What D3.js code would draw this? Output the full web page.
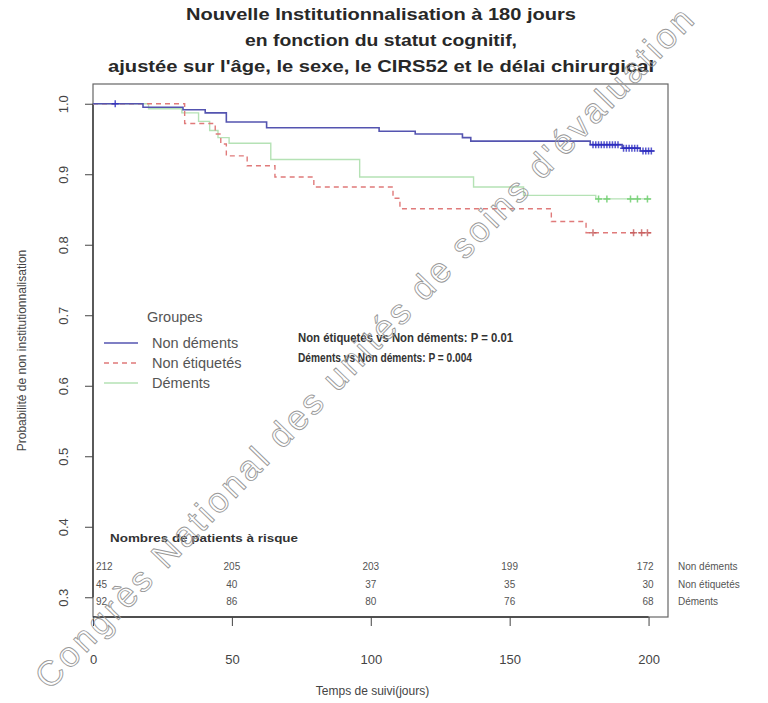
<!DOCTYPE html>
<html lang="fr">
<head>
<meta charset="UTF-8">
<title>Nouvelle Institutionnalisation à 180 jours</title>
<script src="https://cdnjs.cloudflare.com/ajax/libs/d3/7.8.5/d3.min.js"></script>
<style>
  body { margin: 0; background: #fff; }
  svg { display: block; }
  text { font-family: 'Liberation Sans', Arial, sans-serif; }
</style>
</head>
<body>
<script>
  // step curves (time in days, probability)
  const groups = ["Non déments", "Non étiquetés", "Déments"];
  const timesNonDements = [0, 18, 32.4, 40.4, 48, 62.5, 103, 116, 133, 136, 179, 190.5, 197, 202];
  const survNonDements  = [1, 0.995, 0.9915, 0.987, 0.974, 0.966, 0.961, 0.957, 0.952, 0.947, 0.942, 0.937, 0.933, 0.933];
  const timesNonEtiq = [0, 33, 44, 46, 48, 55.5, 65.5, 79.5, 108, 110.5, 165, 177.5, 201];
  const survNonEtiq  = [1, 0.972, 0.957, 0.943, 0.926, 0.912, 0.896, 0.882, 0.866, 0.851, 0.833, 0.817, 0.817];
  const timesDements = [0, 20, 32, 38, 42, 45, 49, 64, 96, 137, 155, 181, 201];
  const survDements  = [1, 0.993, 0.987, 0.975, 0.962, 0.952, 0.944, 0.921, 0.896, 0.882, 0.870, 0.865, 0.865];

  // censoring marks
  const censNonDements = [8, 180, 181, 182, 183, 184, 185, 186, 187, 188, 189, 191, 192, 193, 194, 195, 196, 198, 199, 200, 201];
  const censNonEtiq = [180, 194.6, 197.5, 199.6];
  const censDements = [182, 185, 193.5, 196, 199.6];

  // numbers at risk
  const riskTimes = [0, 50, 100, 150, 200];
  const riskNonDements = [212, 205, 203, 199, 172];
  const riskNonEtiq = [45, 40, 37, 35, 30];
  const riskDements = [92, 86, 80, 76, 68];

  const xTicks = [0, 50, 100, 150, 200];
  const yTicks = [0.3, 0.4, 0.5, 0.6, 0.7, 0.8, 0.9, 1.0];

  const W = 768, H = 703;
  const mLeft = 93, mRight = 668, mTop = 84, mBottom = 617;

  const svg = d3.select("body").append("svg")
    .attr("width", W)
    .attr("height", H);

  const x = d3.scaleLinear().domain([0, 207]).range([mLeft, mRight]);
  const y = d3.scaleLinear().domain([0.272, 1.028]).range([mBottom, mTop]);

  // title
  const titleLines = [
    "Nouvelle Institutionnalisation à 180 jours",
    "en fonction du statut cognitif,",
    "ajustée sur l'âge, le sexe, le CIRS52 et le délai chirurgical"
  ];
  const titleWidths = [390, 272, 546];
  svg.selectAll(".title")
    .data(titleLines)
    .enter().append("text")
    .attr("class", "title")
    .attr("x", 381)
    .attr("y", (d, i) => 20 + i * 26)
    .attr("text-anchor", "middle")
    .attr("font-size", 17)
    .attr("font-weight", "bold")
    .attr("fill", "#282828")
    .attr("textLength", (d, i) => titleWidths[i])
    .attr("lengthAdjust", "spacingAndGlyphs")
    .text(d => d);

  // plot box
  svg.append("rect")
    .attr("x", mLeft).attr("y", mTop)
    .attr("width", mRight - mLeft).attr("height", mBottom - mTop)
    .attr("fill", "none")
    .attr("stroke", "#666")
    .attr("stroke-width", 1.2);

  // axes
  const xAxis = svg.append("g")
    .attr("transform", `translate(0,${mBottom})`)
    .call(d3.axisBottom(x).tickValues(xTicks).tickSize(9).tickPadding(29).tickFormat(d3.format("d")));
  const yAxis = svg.append("g")
    .attr("transform", `translate(${mLeft},0)`)
    .call(d3.axisLeft(y).tickValues(yTicks).tickSize(8).tickFormat(d3.format(".1f")));

  [xAxis, yAxis].forEach(g => {
    g.select(".domain").attr("stroke", "#333").attr("stroke-width", 1.3);
    g.selectAll(".tick line").attr("stroke", "#444");
    g.selectAll("text").attr("font-family", "'Liberation Sans', Arial, sans-serif")
      .attr("font-size", 13).attr("fill", "#444");
  });
  xAxis.select(".domain").attr("d", `M${x(0)},0H${x(200)}`);
  yAxis.select(".domain").attr("d", `M0,${y(0.3)}V${y(1.0)}`);
  yAxis.selectAll(".tick text")
    .attr("transform", "rotate(-90)")
    .attr("x", 0).attr("dx", 0)
    .attr("y", -28).attr("dy", 0)
    .attr("text-anchor", "middle")
    .attr("dominant-baseline", "middle");

  // axis titles
  svg.append("text")
    .attr("transform", `translate(23,${(mTop + mBottom) / 2}) rotate(-90)`)
    .attr("text-anchor", "middle")
    .attr("dominant-baseline", "middle")
    .attr("font-size", 12)
    .attr("fill", "#444")
    .text("Probabilité de non institutionnalisation");
  svg.append("text")
    .attr("x", (mLeft + mRight) / 2 - 8)
    .attr("y", 695)
    .attr("text-anchor", "middle")
    .attr("font-size", 12)
    .attr("fill", "#444")
    .text("Temps de suivi(jours)");

  // curves
  const series = [
    { t: timesNonDements, s: survNonDements, c: censNonDements, color: "#5454b0", mark: "#2d2dc2", dash: null, w: 1.6 },
    { t: timesNonEtiq, s: survNonEtiq, c: censNonEtiq, color: "#e07a7a", mark: "#c45a5a", dash: "5,4", w: 1.4 },
    { t: timesDements, s: survDements, c: censDements, color: "#b5e2b5", mark: "#66cc66", dash: null, w: 1.4 }
  ];

  const line = d3.line()
    .x(d => x(d[0]))
    .y(d => y(d[1]))
    .curve(d3.curveStepAfter);

  // value of a step curve at a time
  function stepAt(t, s, v) {
    let k = 0;
    for (let i = 0; i < t.length; i++) if (t[i] <= v) k = i;
    return s[k];
  }

  [series[2], series[1], series[0]].forEach(sr => {
    svg.append("path")
      .datum(sr.t.map((d, i) => [d, sr.s[i]]))
      .attr("d", line)
      .attr("fill", "none")
      .attr("stroke", sr.color)
      .attr("stroke-width", sr.w)
      .attr("stroke-dasharray", sr.dash);

    svg.append("g").selectAll("path")
      .data(sr.c)
      .enter().append("path")
      .attr("d", d => {
        const px = x(d), py = y(stepAt(sr.t, sr.s, d));
        return `M${px - 3.5},${py}H${px + 3.5}M${px},${py - 3.5}V${py + 3.5}`;
      })
      .attr("stroke", sr.mark)
      .attr("stroke-width", 1.5)
      .attr("opacity", 0.8);
  });

  // legend
  svg.append("text")
    .attr("x", 147).attr("y", 322)
    .attr("font-size", 14.5).attr("fill", "#555")
    .text("Groupes");
  groups.forEach((g, i) => {
    const ly = 343 + i * 20;
    svg.append("line")
      .attr("x1", 104).attr("x2", 138)
      .attr("y1", ly).attr("y2", ly)
      .attr("stroke", series[i].color)
      .attr("stroke-width", 1.5)
      .attr("stroke-dasharray", series[i].dash);
    svg.append("text")
      .attr("x", 152).attr("y", ly + 5)
      .attr("font-size", 14.5).attr("fill", "#555")
      .text(g);
  });

  // p-values
  const pTexts = ["Non étiquetés vs Non déments: P = 0.01", "Déments vs Non déments: P = 0.004"];
  const pWidths = [215, 174];
  pTexts.forEach((p, i) => {
    svg.append("text")
      .attr("x", 298).attr("y", 342 + i * 20)
      .attr("font-family", "Lato, 'Liberation Sans', sans-serif")
      .attr("font-size", 12.5).attr("font-weight", "bold")
      .attr("fill", "#333")
      .attr("textLength", pWidths[i])
      .attr("lengthAdjust", "spacingAndGlyphs")
      .text(p);
  });

  // numbers at risk
  svg.append("text")
    .attr("x", 110).attr("y", 542)
    .attr("font-family", "Lato, 'Liberation Sans', sans-serif")
    .attr("font-size", 10.5).attr("font-weight", "bold")
    .attr("fill", "#333")
    .attr("textLength", 188)
    .attr("lengthAdjust", "spacingAndGlyphs")
    .text("Nombres de patients à risque");

  const riskRows = [riskNonDements, riskNonEtiq, riskDements];
  riskRows.forEach((row, r) => {
    const ry = 570 + r * 17.5;
    svg.append("g").selectAll("text")
      .data(row)
      .enter().append("text")
      .attr("x", (d, i) => i === 0 ? x(riskTimes[i]) + 3 : i === row.length - 1 ? x(riskTimes[i]) + 5 : x(riskTimes[i]))
      .attr("y", ry)
      .attr("text-anchor", (d, i) => i === 0 ? "start" : i === row.length - 1 ? "end" : "middle")
      .attr("font-family", "Lato, 'Liberation Sans', sans-serif")
      .attr("font-size", 10)
      .attr("fill", "#555")
      .text(d => d);
    svg.append("text")
      .attr("x", 678).attr("y", ry)
      .attr("font-family", "Lato, 'Liberation Sans', sans-serif")
      .attr("font-size", 10)
      .attr("fill", "#555")
      .text(groups[r]);
  });

  // watermark
  svg.append("text")
    .attr("transform", "translate(366,350) rotate(-46)")
    .attr("text-anchor", "middle")
    .attr("dominant-baseline", "middle")
    .attr("font-size", 35)
    .attr("fill", "none")
    .attr("stroke", "#999")
    .attr("stroke-width", 0.9)
    .attr("textLength", 930)
    .attr("lengthAdjust", "spacing")
    .text("Congrès National des unités de soins d'évaluation");
</script>
</body>
</html>
